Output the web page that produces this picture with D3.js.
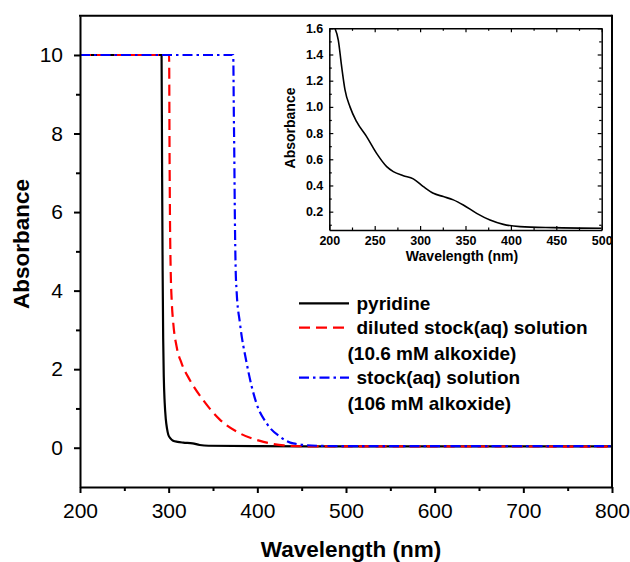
<!DOCTYPE html>
<html>
<head>
<meta charset="utf-8">
<script src="https://cdn.jsdelivr.net/npm/d3@7"></script>
<style>
  body { margin: 0; background: #fff; }
  text { font-family: "Liberation Sans", Arial, sans-serif; }
</style>
</head>
<body>
<svg id="chart" width="630" height="562"></svg>
<script>
// main spectra
const pyridineWl  = [200, 292, 292.6, 293.2, 293.8, 294.5, 295.5, 296.8, 298.2, 299.6, 302, 305, 310, 316.5, 327, 335, 345, 400, 500, 800];
const pyridineAbs = [10, 10, 7, 4.5, 2.8, 1.8, 1.15, 0.72, 0.48, 0.33, 0.24, 0.18, 0.15, 0.13, 0.11, 0.07, 0.05, 0.04, 0.035, 0.035];

const dilutedWl  = [200, 300.5, 301, 301.5, 302.3, 303.4, 305.2, 309, 314.6, 324, 339, 358, 380, 407, 430, 460, 800];
const dilutedAbs = [10, 10, 7.5, 5.8, 4.5, 3.76, 3.17, 2.57, 2.15, 1.72, 1.21, 0.71, 0.37, 0.15, 0.06, 0.035, 0.03];

const stockWl  = [200, 372.8, 373.5, 374, 374.7, 375.5, 376.6, 380.4, 388, 399, 410.5, 425.5, 440.5, 467, 500, 800];
const stockAbs = [10, 10, 8.5, 7.5, 5.8, 4.6, 4.0, 3.17, 2.15, 1.13, 0.62, 0.28, 0.11, 0.05, 0.04, 0.04];

// inset spectrum
const insetWl  = [206.2, 209.9, 213.6, 217.3, 222.8, 230.1, 241.1, 252.1, 263.2, 270.5, 281.5, 292.5, 303.6, 314.6, 325.6, 336.6, 347.6, 362.3, 377, 391.7, 410, 446.8, 500];
const insetAbs = [1.6, 1.51, 1.307, 1.13, 1.0, 0.887, 0.773, 0.645, 0.544, 0.506, 0.475, 0.45, 0.391, 0.34, 0.315, 0.29, 0.251, 0.187, 0.136, 0.103, 0.086, 0.078, 0.073];

const xTicks = [200, 300, 400, 500, 600, 700, 800];
const yTicks = [0, 2, 4, 6, 8, 10];
const insetXTicks = [200, 250, 300, 350, 400, 450, 500];
const insetYTicks = [0.2, 0.4, 0.6, 0.8, 1.0, 1.2, 1.4, 1.6];

const legendLabels = [["pyridine"], ["diluted stock(aq) solution", "(10.6 mM alkoxide)"], ["stock(aq) solution", "(106 mM alkoxide)"]];

const svg = d3.select("#chart");

// ---------- main plot ----------
const L = 80, R = 612, T = 15.7, B = 487;
const x = d3.scaleLinear().domain([200, 800]).range([L, R]);
const y = d3.scaleLinear().domain([-1, 11]).range([B, T]);

const series = [
  {wl: pyridineWl, abs: pyridineAbs, color: "#000", dash: null},
  {wl: dilutedWl, abs: dilutedAbs, color: "#ff0000", dash: "11,6"},
  {wl: stockWl, abs: stockAbs, color: "#0000ff", dash: "10,4,2.5,4"}
];

svg.append("clipPath").attr("id", "mainclip")
  .append("rect").attr("x", L).attr("y", T).attr("width", R - L).attr("height", B - T);

const line = d3.line().x(d => x(d[0])).y(d => y(d[1])).curve(d3.curveMonotoneX);

series.forEach(s => {
  svg.append("path")
    .datum(d3.zip(s.wl, s.abs))
    .attr("clip-path", "url(#mainclip)")
    .attr("fill", "none")
    .attr("stroke", s.color)
    .attr("stroke-width", 2.2)
    .attr("stroke-dasharray", s.dash)
    .attr("d", line);
});

// minor ticks
const xMinor = d3.range(250, 800, 100);
const yMinor = d3.range(1, 11, 2);

svg.append("g").attr("transform", `translate(0,${B})`)
  .call(d3.axisBottom(x).tickValues(xTicks).tickSize(6).tickSizeOuter(0).tickPadding(10).tickFormat(d3.format("d")));
svg.append("g").attr("transform", `translate(0,${B})`)
  .call(d3.axisBottom(x).tickValues(xMinor).tickSize(4).tickSizeOuter(0).tickFormat(""))
  .select(".domain").remove();

svg.append("g").attr("transform", `translate(${L},0)`)
  .call(d3.axisLeft(y).tickValues(yTicks).tickSize(6).tickSizeOuter(0).tickPadding(11));
svg.append("g").attr("transform", `translate(${L},0)`)
  .call(d3.axisLeft(y).tickValues(yMinor).tickSize(4).tickSizeOuter(0).tickFormat(""))
  .select(".domain").remove();

svg.selectAll(".tick line").attr("stroke-width", 2);
svg.selectAll(".domain").attr("stroke-width", 2);
svg.selectAll(".tick text").attr("font-size", 21).attr("fill", "#000")
  .style("font-family", "'Liberation Sans', Arial, sans-serif");

// top and right frame
svg.append("line").attr("x1", L - 1).attr("x2", R).attr("y1", T).attr("y2", T).attr("stroke", "#000").attr("stroke-width", 2);
svg.append("line").attr("x1", R).attr("x2", R).attr("y1", T - 1).attr("y2", B).attr("stroke", "#000").attr("stroke-width", 2);

svg.append("text").attr("x", 351).attr("y", 557).attr("text-anchor", "middle")
  .attr("font-size", 22.5).attr("font-weight", "bold").text("Wavelength (nm)");
svg.append("text").attr("transform", "translate(29,244) rotate(-90)").attr("text-anchor", "middle")
  .attr("font-size", 22.5).attr("font-weight", "bold").text("Absorbance");

// legend
const legY = [303.3, 327.7, 377.7];
series.forEach((s, i) => {
  svg.append("line").attr("x1", 299).attr("x2", 349).attr("y1", legY[i]).attr("y2", legY[i])
    .attr("stroke", s.color).attr("stroke-width", 2.2).attr("stroke-dasharray", s.dash);
  legendLabels[i].forEach((t, j) => {
    svg.append("text").attr("x", j === 0 ? 356.5 : 347.5).attr("y", legY[i] + j * 26)
      .attr("dy", "0.35em").attr("font-size", 19).attr("font-weight", "bold").text(t);
  });
});

// ---------- inset ----------
const iL = 329.3, iR = 601.7, iT = 28.3, iB = 230;
const ix = d3.scaleLinear().domain([200, 500]).range([iL, iR]);
const iy = d3.scaleLinear().domain([0.06, 1.6]).range([iB, iT]);

const inset = svg.append("g");
inset.append("clipPath").attr("id", "insetclip")
  .append("rect").attr("x", iL).attr("y", iT).attr("width", iR - iL).attr("height", iB - iT);

const iLine = d3.line().x(d => ix(d[0])).y(d => iy(d[1])).curve(d3.curveMonotoneX);
inset.append("path")
  .datum(d3.zip(insetWl, insetAbs))
  .attr("clip-path", "url(#insetclip)")
  .attr("fill", "none").attr("stroke", "#000").attr("stroke-width", 1.6)
  .attr("d", iLine);

const ixMinor = d3.range(225, 500, 50);
const iyMinor = d3.range(0.1, 1.6, 0.2);

function insetTicks(g, axisFn, scale, major, minor, pos, labels) {
  const a = g.append("g").attr("transform", pos)
    .call(axisFn(scale).tickValues(major).tickSize(-4).tickSizeOuter(0).tickPadding(6)
      .tickFormat(labels ? labels : ""));
  g.append("g").attr("transform", pos)
    .call(axisFn(scale).tickValues(minor).tickSize(-2.5).tickSizeOuter(0).tickFormat(""))
    .select(".domain").remove();
  return a;
}

insetTicks(inset, d3.axisBottom, ix, insetXTicks, ixMinor, `translate(0,${iB})`, d3.format("d"));
insetTicks(inset, d3.axisTop, ix, insetXTicks, ixMinor, `translate(0,${iT})`, null);
insetTicks(inset, d3.axisLeft, iy, insetYTicks, iyMinor, `translate(${iL},0)`, d3.format(".1f"));
insetTicks(inset, d3.axisRight, iy, insetYTicks, iyMinor, `translate(${iR},0)`, null);

inset.selectAll(".domain").attr("stroke-width", 1.5);
inset.selectAll(".tick line").attr("stroke-width", 1.2);
inset.selectAll(".tick text").attr("font-size", 12.5).attr("font-weight", "bold").attr("fill", "#000")
  .style("font-family", "'Liberation Sans', Arial, sans-serif");

inset.append("text").attr("x", 462).attr("y", 261).attr("text-anchor", "middle")
  .attr("font-size", 14).attr("font-weight", "bold").text("Wavelength (nm)");
inset.append("text").attr("transform", "translate(295,128) rotate(-90)").attr("text-anchor", "middle")
  .attr("font-size", 14).attr("font-weight", "bold").text("Absorbance");
</script>
</body>
</html>
